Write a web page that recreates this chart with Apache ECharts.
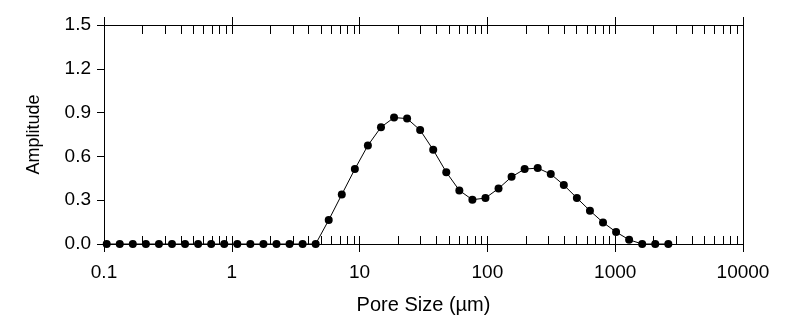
<!DOCTYPE html>
<html>
<head>
<meta charset="utf-8">
<script src="https://cdn.jsdelivr.net/npm/echarts@6/dist/echarts.min.js"></script>
<style>
  html, body { margin: 0; padding: 0; background: #fff; }
  #chart { width: 789px; height: 324px; }
</style>
</head>
<body>
<div id="chart"></div>
<script>
// Pore size distribution (log-spaced bins)
const poreSize = [
  0.105, 0.1328, 0.168, 0.2127, 0.269, 0.3404, 0.4307, 0.545, 0.6896, 0.8727,
  1.104, 1.397, 1.768, 2.237, 2.83, 3.581, 4.531, 5.733, 7.254, 9.18,
  11.61, 14.70, 18.60, 23.53, 29.77, 37.67, 47.67, 60.32, 76.32, 96.56,
  122.2, 154.6, 195.6, 247.5, 313.2, 396.3, 501.4, 634.5, 802.8, 1016,
  1285, 1626, 2058, 2604
];
const amplitude = [
  0, 0, 0, 0, 0, 0, 0, 0, 0, 0,
  0, 0, 0, 0, 0, 0, 0, 0.164, 0.339, 0.513,
  0.675, 0.800, 0.866, 0.859, 0.780, 0.645, 0.492, 0.367, 0.303, 0.315,
  0.380, 0.460, 0.513, 0.520, 0.479, 0.404, 0.315, 0.228, 0.148, 0.082,
  0.029, 0, 0, 0
];
const xTickLabels = ['0.1', '1', '10', '100', '1000', '10000'];
const yTickLabels = ['0.0', '0.3', '0.6', '0.9', '1.2', '1.5'];

const FONT = "'Liberation Sans', Arial, sans-serif";
const X_MIN = 0.1, X_MAX = 10000;

// every tick position (decades plus 2..9 within each decade)
const allTicks = [];
for (let d = 0.1; d < X_MAX * 0.5; d *= 10) {
  for (let k = 1; k <= 9; k++) allTicks.push(+(k * d).toPrecision(3));
}
allTicks.push(X_MAX);

const points = poreSize.map((x, i) => [x, amplitude[i]]);

const lineStyle = { color: '#000', width: 1 };

function logAxis(position, opts) {
  return Object.assign({
    type: 'log',
    logBase: 10,
    min: X_MIN,
    max: X_MAX,
    position: position,
    axisLine: { show: true, onZero: false, lineStyle: lineStyle },
    axisTick: { show: false },
    axisLabel: { show: false },
    splitLine: { show: false },
    minorTick: { show: false },
    minorSplitLine: { show: false }
  }, opts);
}

const chart = echarts.init(document.getElementById('chart'), null, { renderer: 'canvas' });

chart.setOption({
  animation: false,
  backgroundColor: '#fff',
  grid: { left: 104, right: 46, top: 25, bottom: 80, containLabel: false },
  xAxis: [
    logAxis('bottom', {
      name: 'Pore Size (µm)',
      nameLocation: 'middle',
      nameGap: 51,
      nameTextStyle: { fontFamily: FONT, fontSize: 20, color: '#000' },
      axisTick: { show: true, inside: false, length: 8, lineStyle: lineStyle },
      axisLabel: {
        show: true,
        margin: 19,
        fontFamily: FONT,
        fontSize: 19,
        color: '#000',
        formatter: v => xTickLabels[Math.round(Math.log10(v)) + 1]
      }
    }),
    logAxis('bottom', {
      axisTick: { show: true, inside: true, length: 8, lineStyle: lineStyle, customValues: allTicks }
    }),
    logAxis('top', {
      axisTick: { show: true, inside: false, length: 8, lineStyle: lineStyle }
    }),
    logAxis('top', {
      axisTick: { show: true, inside: true, length: 9, lineStyle: lineStyle, customValues: allTicks }
    })
  ],
  yAxis: [
    {
      type: 'value',
      min: 0,
      max: 1.5,
      interval: 0.3,
      position: 'left',
      name: 'Amplitude',
      nameLocation: 'middle',
      nameGap: 61,
      nameTextStyle: { fontFamily: FONT, fontSize: 18, color: '#000' },
      axisLine: { show: true, onZero: false, lineStyle: lineStyle },
      axisTick: { show: true, inside: false, length: 7, lineStyle: lineStyle },
      axisLabel: {
        margin: 13,
        fontFamily: FONT,
        fontSize: 19,
        color: '#000',
        formatter: v => yTickLabels[Math.round(v / 0.3)]
      },
      splitLine: { show: false }
    },
    {
      type: 'value',
      min: 0,
      max: 1.5,
      interval: 0.3,
      position: 'right',
      axisLine: { show: true, onZero: false, lineStyle: lineStyle },
      axisTick: { show: false },
      axisLabel: { show: false },
      splitLine: { show: false }
    }
  ],
  series: [
    {
      type: 'line',
      xAxisIndex: 0,
      yAxisIndex: 0,
      data: points,
      symbol: 'circle',
      symbolSize: 8,
      showAllSymbol: true,
      itemStyle: { color: '#000' },
      lineStyle: { color: '#000', width: 1 },
      clip: false
    }
  ]
});
</script>
</body>
</html>
